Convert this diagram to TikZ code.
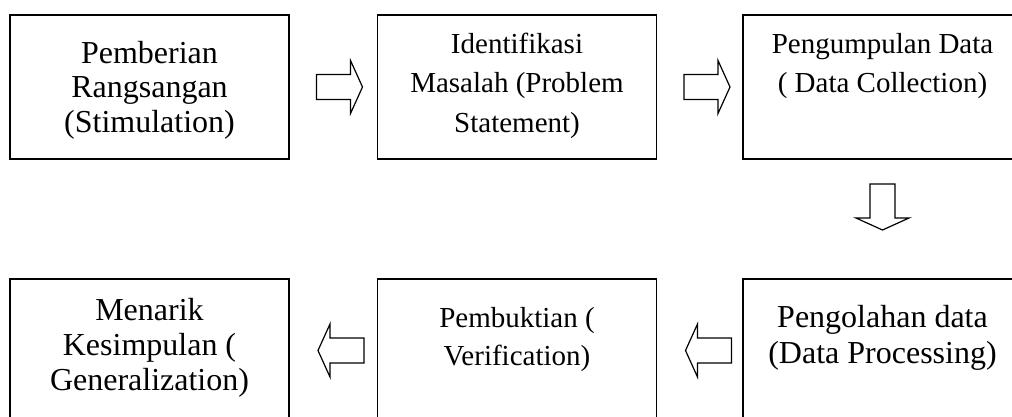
\documentclass[tikz,border=0pt]{standalone}
\usepackage{fontspec}
\setmainfont{Liberation Serif}
\usetikzlibrary{calc}
\newcommand{\topline}{\rule{0pt}{24pt}}
\begin{document}
\begin{tikzpicture}[x=1pt,y=-1pt,
  box/.style={draw, line width=1.8pt, minimum width=279pt, minimum height=144pt,
              inner sep=0pt, outer sep=0pt},
  bigtext/.style={anchor=north, inner sep=0pt, align=center,
                  font=\fontsize{32}{34.5}\selectfont},
  smalltext/.style={anchor=north, inner sep=0pt, align=center,
                    font=\fontsize{29}{39.5}\selectfont},
  pics/blockarrow/.style={code={
    \draw[line width=1.2pt, line join=miter]
      (0,0) -- (-12,-26.5) -- (-12,-12.5) -- (-46,-12.5)
      -- (-46,12.5) -- (-12,12.5) -- (-12,26.5) -- cycle;}}
]
\useasboundingbox (0,0) rectangle (1012,416);
\fill[white] (0,0) rectangle (1012,416);
\clip (0,0) rectangle (1012,416);

% boxes
\node[box] (b1) at (149.5,87) {};
\node[box] (b2) at (517,87) {};
\node[box] (b3) at (882.5,87) {};
\node[box] (b4) at (149.5,351) {};
\node[box] (b5) at (517,351) {};
\node[box] (b6) at (882.5,351) {};

% labels
\node[bigtext] (t1) at ($(b1.north)+(0,24)$)
  {\topline Pemberian\\Rangsangan\\(Stimulation)};
\node[smalltext] (t2) at ($(b2.north)+(0,14)$)
  {\topline Identifikasi\\Masalah (Problem\\Statement)};
\node[smalltext, font=\fontsize{29}{39}\selectfont] (t3) at ($(b3.north)+(0,14)$)
  {\topline Pengumpulan Data\\( Data Collection)};
\node[bigtext, font=\fontsize{32}{35}\selectfont] (t4) at ($(b4.north)+(0,17)$)
  {\topline Menarik\\Kesimpulan (\\Generalization)};
\node[smalltext, font=\fontsize{29}{38}\selectfont] (t5) at ($(b5.north)+(0,24)$)
  {\topline Pembuktian (\\Verification)};
\node[bigtext, font=\fontsize{32}{36}\selectfont] (t6) at ($(b6.north)+(0,24)$)
  {\topline Pengolahan data\\(Data Processing)};

% block arrows between the steps
\pic at ([xshift=-15pt]b2.west) {blockarrow};
\pic at ([xshift=-13pt]b3.west) {blockarrow};
\pic[rotate=-90] at ([yshift=49pt]b6.north) {blockarrow};
\pic[rotate=180] at ([xshift=29pt,yshift=0.5pt]b5.east) {blockarrow};
\pic[rotate=180] at ([xshift=29pt,yshift=0.5pt]b4.east) {blockarrow};
\end{tikzpicture}
\end{document}
